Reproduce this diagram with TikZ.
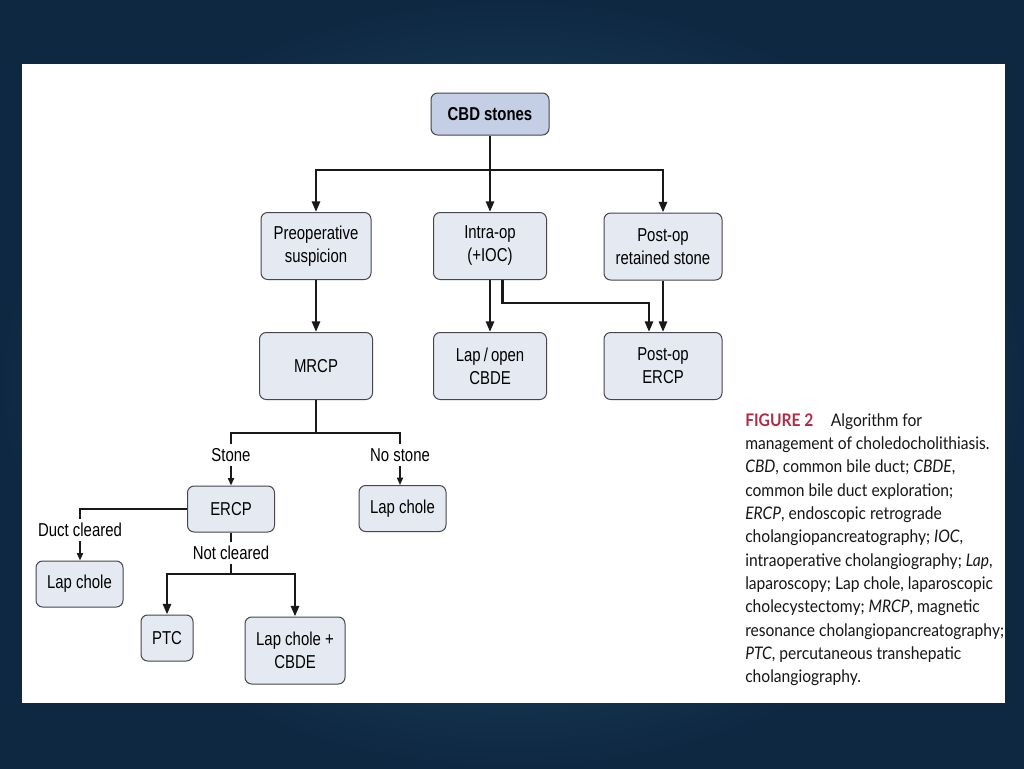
\documentclass[tikz,border=0pt]{standalone}
\usepackage{fontspec}
\usepackage{tikz}
\usetikzlibrary{arrows, arrows.meta}
\newfontfamily\boxfont{Liberation Sans}[FakeStretch=0.8]
\newfontfamily\capfont{Lato}[FakeStretch=0.9]
\definecolor{boxfill}{RGB}{228,233,242}
\definecolor{topfill}{RGB}{196,207,230}
\definecolor{boxline}{RGB}{70,70,75}
\definecolor{figred}{RGB}{176,44,70}
\definecolor{capgray}{RGB}{22,22,22}

\begin{document}
\begin{tikzpicture}[x=0.75pt, y=-0.75pt,
  box/.style={draw=boxline, line width=0.75pt, fill=boxfill, rounded corners=5pt,
    inner sep=0pt, align=center, font=\boxfont\fontsize{14}{17.25}\selectfont},
  topbox/.style={box, fill=topfill, font=\boxfont\bfseries\fontsize{14}{17.25}\selectfont},
  lbl/.style={inner sep=3pt, font=\boxfont\fontsize{14}{17.25}\selectfont},
  wire/.style={line width=2.2pt, color=black!90},
  conn/.style={wire, -{Triangle[length=8pt,width=6pt]}},
  thin/.style={line width=1.2pt, color=black!90, -{Triangle[length=5.5pt,width=4.5pt]}}]
  % Background and panel
  \shade[inner color={rgb,255:red,38;green,88;blue,126}, outer color={rgb,255:red,15;green,40;blue,66}]
    (0,0) rectangle (1024,768);
  \fill[white] (22,64) rectangle (1005,703);
  \useasboundingbox (0,0) rectangle (1024,768);

  % Coordinates
  \coordinate (bar1) at (490,170);
  \coordinate (bar2) at (316,433);
  \coordinate (bar3) at (231,574);
  \coordinate (jog) at (649,303);

  % Boxes
  \node[topbox, minimum width=88.5pt, minimum height=31.5pt] (cbd) at (490,114) {CBD stones};
  \node[box, minimum width=82.5pt, minimum height=50.25pt] (preop) at (316,246) {Preoperative\\suspicion};
  \node[box, minimum width=84.75pt, minimum height=50.25pt] (intra) at (490,246) {Intra-op\\(+IOC)};
  \node[box, minimum width=88.5pt, minimum height=50.25pt] (postret) at (663,246.5) {Post-op\\retained stone};
  \node[box, minimum width=84.75pt, minimum height=50.25pt] (mrcp) at (316,366) {MRCP};
  \node[box, minimum width=84.75pt, minimum height=50.25pt] (lapopen) at (490,366) {Lap\,/\,open\\CBDE};
  \node[box, minimum width=88.5pt, minimum height=50.25pt] (posterc) at (663,366) {Post-op\\ERCP};
  \node[box, minimum width=65.25pt, minimum height=34.5pt] (ercp) at (231,509) {ERCP};
  \node[box, minimum width=65.25pt, minimum height=34.5pt] (lapchr) at (402.5,508.5) {Lap chole};
  \node[box, minimum width=65.25pt, minimum height=34.5pt] (lapchl) at (79.5,584) {Lap chole};
  \node[box, minimum width=39pt, minimum height=34.5pt] (ptc) at (167,638) {PTC};
  \node[box, minimum width=75pt, minimum height=50.25pt] (lapcbde) at (295,650.5) {Lap chole +\\CBDE};

  % Labels
  \node[lbl] (stone) at (231,455) {Stone};
  \node[lbl] (nostone) at (400,455) {No stone};
  \node[lbl] (ductcl) at (80,530) {Duct cleared};
  \node[lbl] (notcl) at (231,553) {Not cleared};

  % Drawing
  \draw[conn] (cbd) -- (intra);
  \draw[conn] (bar1) -| (preop);
  \draw[conn] (bar1) -| (postret);
  \draw[conn] (preop) -- (mrcp);
  \draw[conn] (intra) -- (lapopen);
  \draw[conn] ([xshift=9.4pt]intra.south) |- (jog) -- (jog |- posterc.north);
  \draw[conn] (postret.south) -- (postret.south |- posterc.north);
  \draw[wire] (mrcp) -- (bar2);
  \draw[wire] (stone.north) |- (bar2) -| (nostone.north);
  \draw[thin] (stone.south) -- (stone.south |- ercp.north);
  \draw[thin] (nostone.south) -- (nostone.south |- lapchr.north);
  \draw[wire] (ercp.west) -| (ductcl.north);
  \draw[thin] (ductcl.south) -- (ductcl.south |- lapchl.north);
  \draw[wire] (ercp) -- (notcl);
  \draw[wire] (notcl.south) -- (bar3);
  \draw[conn] (bar3) -| (ptc);
  \draw[conn] (bar3) -| (lapcbde);

  % Caption
  \node[anchor=north west, inner sep=0pt, align=left, text=capgray,
    font=\capfont\fontsize{13}{17.5}\selectfont] (caption) at (745,413)
    {{\color{figred}\bfseries FIGURE 2}\quad Algorithm for\\
     management of choledocholithiasis.\\
     \textit{CBD}, common bile duct; \textit{CBDE},\\
     common bile duct exploration;\\
     \textit{ERCP}, endoscopic retrograde\\
     cholangiopancreatography; \textit{IOC},\\
     intraoperative cholangiography; \textit{Lap},\\
     laparoscopy; Lap chole, laparoscopic\\
     cholecystectomy; \textit{MRCP}, magnetic\\
     resonance cholangiopancreatography;\\
     \textit{PTC}, percutaneous transhepatic\\
     cholangiography.};
\end{tikzpicture}
\end{document}
